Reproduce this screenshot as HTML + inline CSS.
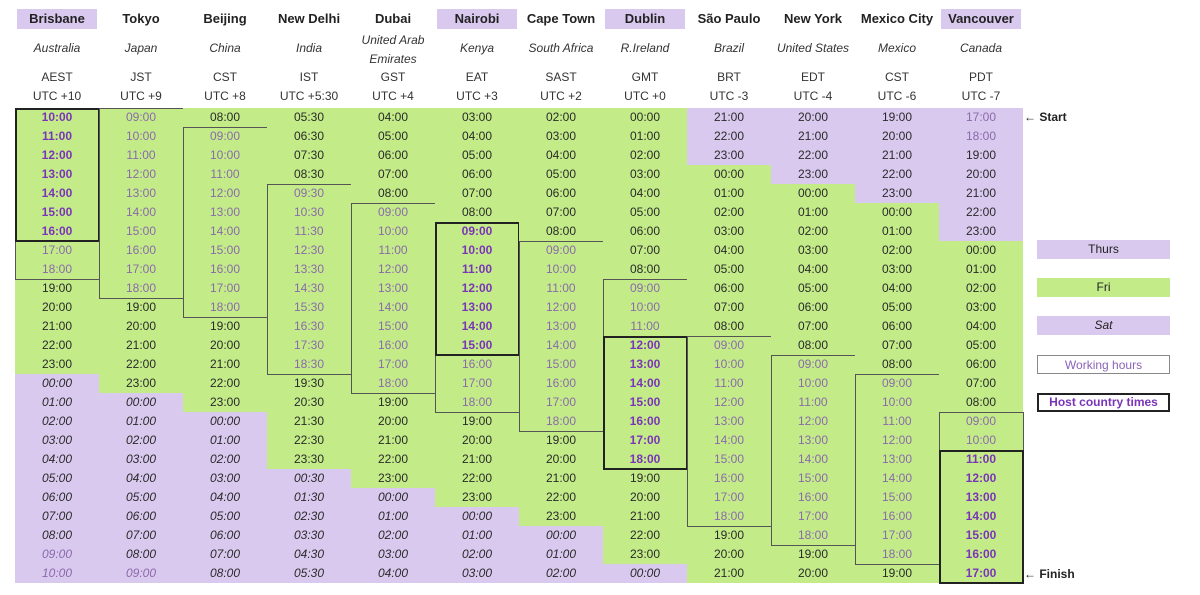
<!DOCTYPE html>
<html><head><meta charset="utf-8"><style>
body{margin:0;width:1200px;height:595px;background:#fff;font-family:"Liberation Sans",sans-serif;position:relative;overflow:hidden;color:#222}
.a{position:absolute;text-align:center;box-sizing:border-box}
.hd{font-weight:bold;font-size:13px;line-height:20px}
.ct{font-style:italic;font-size:12px;color:#333}
.tz{font-size:12px;color:#333;line-height:19px}
.cell{font-size:12px;line-height:19px;height:19.04px;width:84px}
.leg{left:1037px;width:133px;height:19px;font-size:12px;line-height:19px}
</style></head><body>
<div id="root"></div>
<div class="a leg" style="top:240px;background:#d9c9ef">Thurs</div>
<div class="a leg" style="top:278px;background:#c3ec89">Fri</div>
<div class="a leg" style="top:316px;background:#d9c9ef;font-style:italic">Sat</div>
<div class="a leg" style="top:355px;border:1px solid #888;color:#8a62b8">Working hours</div>
<div class="a leg" style="top:393px;border:2px solid #222;color:#7a34b8;font-weight:bold;line-height:15px">Host country times</div>
<div class="a" style="left:1024px;top:108px;font-size:12px;font-weight:bold;line-height:19px">← Start</div>
<div class="a" style="left:1024px;top:565px;font-size:12px;font-weight:bold;line-height:19px">← Finish</div>
<script>
const cities=["Brisbane","Tokyo","Beijing","New Delhi","Dubai","Nairobi","Cape Town","Dublin","São Paulo","New York","Mexico City","Vancouver"];
const countries=["Australia","Japan","China","India","United Arab Emirates","Kenya","South Africa","R.Ireland","Brazil","United States","Mexico","Canada"];
const zones=["AEST","JST","CST","IST","GST","EAT","SAST","GMT","BRT","EDT","CST","PDT"];
const utcLabels=["UTC +10","UTC +9","UTC +8","UTC +5:30","UTC +4","UTC +3","UTC +2","UTC +0","UTC -3","UTC -4","UTC -6","UTC -7"];
const offsets=[600,540,480,330,240,180,120,0,-180,-240,-300,-420];
const hosts=[true,false,false,false,false,true,false,true,false,false,false,true];
const hostStartHour=[10,null,null,null,null,9,null,12,null,null,null,11];
const hostEndHour=[16,null,null,null,null,15,null,18,null,null,null,17];
const startUtcMin=0;
const rowCount=25;
const X0=15,CW=84,Y0=107.5,RH=19.04;
const root=document.getElementById('root');
function add(cls,style,txt){const d=document.createElement('div');d.className='a '+cls;d.style.cssText=style;if(txt!=null)d.textContent=txt;root.appendChild(d);return d;}
const pad=n=>String(n).padStart(2,'0');
cities.forEach((c,i)=>{
  const x=X0+i*CW;
  const h=add('hd',`left:${x+2}px;top:9px;width:${CW-4}px;height:20px;${hosts[i]?'background:#d9c9ef':''}`,c);
  
  
  const cn=add('ct',`left:${x}px;top:${countries[i].length>14?31:39}px;width:${CW}px;line-height:19px`,countries[i]);
  
  
  const z=add('tz',`left:${x}px;top:68px;width:${CW}px`,zones[i]);
  
  
  const u=add('tz',`left:${x}px;top:87px;width:${CW}px`,utcLabels[i]);
  
  
  let hS=null,hE=null;
  for(let r=0;r<rowCount;r++){
    let m=startUtcMin+r*60+offsets[i];
    const day=m<0?'thu':(m>=1440?'sat':'fri');
    m=((m%1440)+1440)%1440;
    const hr=Math.floor(m/60),mn=m%60;
    const working=hr>=9&&hr<=18;
    const host=hosts[i]&&day==='fri'&&hr>=hostStartHour[i]&&hr<=hostEndHour[i];
    let st=`left:${x}px;top:${Y0+r*RH}px;background:${day==='fri'?'#c3ec89':'#d9c9ef'};`;
    if(day==='sat')st+='font-style:italic;';
    if(host)st+='color:#7a34b8;font-weight:bold;';
    else if(working)st+='color:#8a6aaa;';
    else st+='color:#2a2a2a;';
    const d=add('cell',st,pad(hr)+':'+pad(mn));
    
    
    if(host){if(hS===null)hS=r;hE=r;}
  }
  const segs=[];let s=null;
  for(let r=0;r<rowCount;r++){
    let m=startUtcMin+r*60+offsets[i];const day=m<0?'thu':(m>=1440?'sat':'fri');m=((m%1440)+1440)%1440;const hr=Math.floor(m/60);
    const ok=day==='fri'&&hr>=9&&hr<=18&&!(hS!==null&&r>=hS&&r<=hE);
    if(ok&&s===null)s=r;if(!ok&&s!==null){segs.push([s,r-1]);s=null;}
  }
  if(s!==null)segs.push([s,rowCount-1]);
  segs.forEach(([a,b])=>{
    const bx=add('',`left:${x}px;top:${Y0+a*RH}px;width:${CW+1}px;height:${(b-a+1)*RH+1}px;border:1px solid #555`);
    
    
  });
  if(hS!==null){
    const bx=add('',`left:${x}px;top:${Y0+hS*RH}px;width:${CW+1}px;height:${(hE-hS+1)*RH+1}px;border:2px solid #222`);
    
    
  }
});
</script>
</body></html>
